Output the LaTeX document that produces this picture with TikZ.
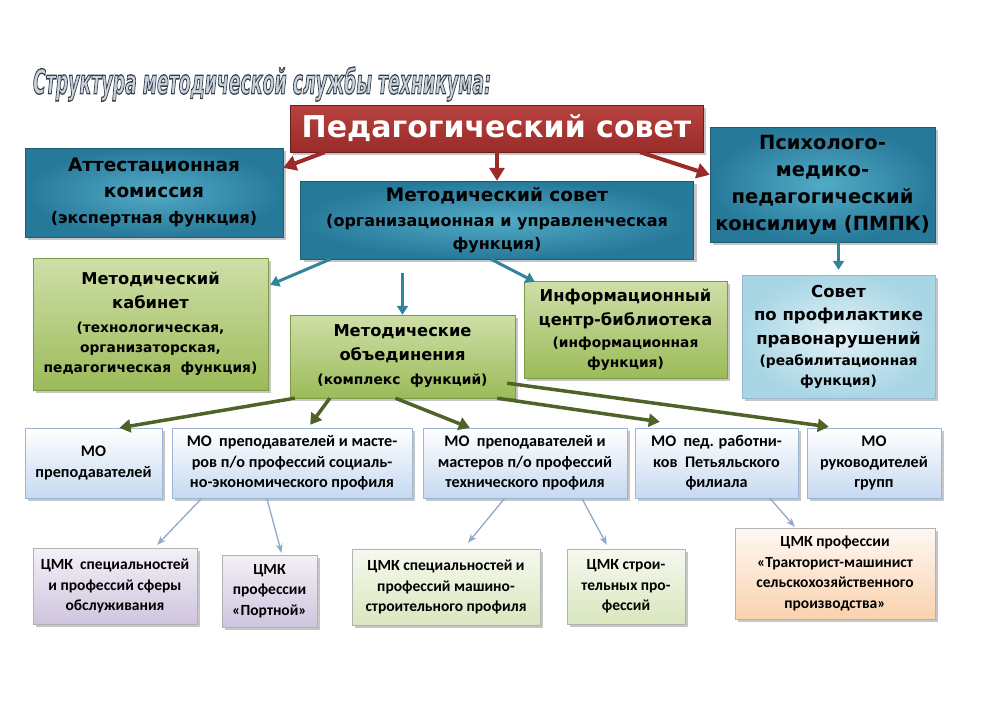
\documentclass[tikz,border=0pt]{standalone}
\usepackage{fontspec}
\setmainfont{DejaVu Sans}
\newfontfamily\calfont{Carlito}
\usetikzlibrary{arrows.meta, shadows, calc, positioning}

\definecolor{pedred}{HTML}{9A2B29}
\definecolor{pedredlight}{HTML}{B7433F}
\definecolor{tealdark}{HTML}{27799A}
\definecolor{teallight}{HTML}{52ABC6}
\definecolor{tealedge}{HTML}{1E5D70}
\definecolor{greendark}{HTML}{9BBB59}
\definecolor{greenlight}{HTML}{CFDFA8}
\definecolor{greenedge}{HTML}{7E9A46}
\definecolor{skyblue}{HTML}{A9D6E5}
\definecolor{skylight}{HTML}{E2F1F6}
\definecolor{mofill}{HTML}{C6D9F1}
\definecolor{moedge}{HTML}{9DB5D3}
\definecolor{lavender}{HTML}{CFC4DE}
\definecolor{palegreen}{HTML}{D9E6BE}
\definecolor{peach}{HTML}{FAD2AE}
\definecolor{titlefill}{HTML}{C9D3DE}
\definecolor{bluearr}{HTML}{31849B}
\definecolor{greenarr}{HTML}{4F6228}
\definecolor{thinarr}{HTML}{8FA9CA}

% sizes of the text in the upper boxes
\newcommand{\mnote}{\fontsize{13.8}{20}\selectfont}
\newcommand{\mnotebig}{\fontsize{16}{22.5}\selectfont}
% outlined title text
\newcommand{\outlined}[1]{\special{pdf:literal direct 2 Tr 1.3 w 0.22 0.25 0.30 RG}#1\special{pdf:literal direct 0 Tr}}

\begin{document}
\begin{tikzpicture}[x=1pt,y=-1pt]
	\tikzstyle{box}=[draw, align=center, inner sep=2pt,
		drop shadow={shadow xshift=3pt, shadow yshift=-3pt, opacity=0.45}]
	\tikzstyle{tealbox}=[box, draw=tealedge, inner color=teallight, outer color=tealdark,
		font=\bfseries\fontsize{18.5}{26}\selectfont]
	\tikzstyle{greenbox}=[box, draw=greenedge, top color=greenlight, bottom color=greendark,
		font=\bfseries\fontsize{16.3}{24}\selectfont]
	\tikzstyle{skybox}=[box, draw=moedge, inner color=skylight, outer color=skyblue,
		font=\bfseries\fontsize{16.5}{23.5}\selectfont]
	\tikzstyle{mobox}=[box, draw=moedge, top color=white, bottom color=mofill,
		font=\calfont\bfseries\fontsize{16.2}{20.5}\selectfont, minimum height=70]
	\tikzstyle{cmkbox}=[box, draw=gray!60, font=\calfont\bfseries\fontsize{15.5}{20.5}\selectfont]
	\tikzstyle{redarrow}=[draw=pedred, line width=4pt, -{Triangle[length=13pt,width=15pt]}]
	\tikzstyle{bluearrow}=[draw=bluearr, line width=3pt, -{Triangle[length=9pt,width=11pt]}]
	\tikzstyle{greenarrow}=[draw=greenarr, line width=3.5pt, -{Triangle[length=11pt,width=13pt]}]
	\tikzstyle{thinarrow}=[draw=thinarr, line width=1.3pt, -{Stealth[length=9pt,width=7pt]}]

	\useasboundingbox (0,0) rectangle (1000,707);

	% title
	\node[text=titlefill, font=\bfseries\itshape\fontsize{34}{34}\selectfont] (title) at (262,84)
		{\scalebox{0.51}[1]{\outlined{Структура методической службы техникума:}}};

	% upper level
	\node[box, draw=pedred!70!black, top color=pedredlight, bottom color=pedred, text=white,
		minimum width=413, minimum height=47, font=\bfseries\fontsize{30}{32}\selectfont] (ped) at (496.5,128.5) {Педагогический совет};
	\node[tealbox, minimum width=258, minimum height=89] (att) at (154,192.5)
		{Аттестационная\\комиссия\\\mnotebig (экспертная функция)};
	\node[tealbox, minimum width=393, minimum height=78] (msov) at (497,220)
		{Методический совет\\[-1pt]\mnotebig (организационная и управленческая\\[-3pt]\mnotebig функция)};
	\node[tealbox, minimum width=225, minimum height=115, font=\bfseries\fontsize{19.5}{27}\selectfont] (pmpk) at (822.5,184.5)
		{Психолого-\\медико-\\педагогический\\консилиум (ПМПК)};

	% middle level
	\node[greenbox, minimum width=235, minimum height=132] (kab) at (150.5,324)
		{Методический\\кабинет\\\mnote (технологическая,\\[-4pt]\mnote организаторская,\\[-4pt]\mnote педагогическая~ функция)};
	\node[greenbox, minimum width=203, minimum height=97] (info) at (625.5,329.5)
		{Информационный\\центр-библиотека\\[-2pt]\mnote (информационная\\[-4pt]\mnote функция)};
	\node[greenbox, minimum width=225, minimum height=83] (mo) at (402.5,356.5)
		{Методические\\объединения\\\mnote (комплекс~ функций)};
	\node[skybox, minimum width=193, minimum height=123] (prof) at (838.5,336.5)
		{Совет\\по профилактике\\правонарушений\\[-2pt]\mnote (реабилитационная\\[-4pt]\mnote функция)};

	% MO row
	\node[mobox, minimum width=137] (mo1) at (93.5,463) {МО\\преподавателей};
	\node[mobox, minimum width=240] (mo2) at (292,463) {МО~ преподавателей и масте-\\ров п/о профессий социаль-\\но-экономического профиля};
	\node[mobox, minimum width=204] (mo3) at (525,463) {МО~ преподавателей и\\мастеров п/о профессий\\технического профиля};
	\node[mobox, minimum width=163] (mo4) at (716.5,463) {МО~ пед. работни-\\ков~ Петьяльского\\филиала};
	\node[mobox, minimum width=134] (mo5) at (874,463) {МО\\руководителей\\групп};

	% CMK row
	\node[cmkbox, top color=lavender!25, bottom color=lavender, minimum width=164, minimum height=76] (c1) at (115,586)
		{ЦМК~ специальностей\\и профессий сферы\\обслуживания};
	\node[cmkbox, top color=lavender!25, bottom color=lavender, minimum width=95, minimum height=72] (c2) at (269.5,591)
		{ЦМК\\профессии\\«Портной»};
	\node[cmkbox, top color=palegreen!25, bottom color=palegreen, minimum width=188, minimum height=76] (c3) at (446,587)
		{ЦМК специальностей и\\профессий машино-\\строительного профиля};
	\node[cmkbox, top color=palegreen!25, bottom color=palegreen, minimum width=118, minimum height=75] (c4) at (626,586.5)
		{ЦМК строи-\\тельных про-\\фессий};
	\node[cmkbox, top color=peach!15, bottom color=peach, minimum width=200, minimum height=91] (c5) at (835,573.5)
		{ЦМК профессии\\«Тракторист-машинист\\сельскохозяйственного\\производства»};

	% arrows from the pedagogical council
	\draw[redarrow] ($(ped.south west)+(35,0)$) -- ($(att.north east)+(0,20)$);
	\draw[redarrow] (ped.south -| msov.north) -- (msov.north);
	\draw[redarrow] ($(ped.south east)+(-63,0)$) -- ($(pmpk.north west)+(0,48)$);

	% arrows from the methodical council
	\draw[bluearrow] ($(msov.south west)+(30,0)$) -- ($(kab.north east)+(2,27)$);
	\draw[bluearrow, shorten <=14pt] (msov.south -| mo.north) -- (mo.north);
	\draw[bluearrow] ($(msov.south)+(-6,0)$) -- ($(info.north west)+(11,1)$);
	\draw[bluearrow, shorten >=5pt] (pmpk.south -| prof.north) -- (prof.north);

	% arrows from the methodical associations
	\draw[greenarrow] ($(mo.south west)+(5,0)$) -- ($(mo1.north)+(26,0)$);
	\draw[greenarrow] ($(mo.south west)+(40,0)$) -- ($(mo2.north east)+(-102,-3)$);
	\draw[greenarrow] ($(mo.south)+(-7,0)$) -- ($(mo3.north west)+(47,0)$);
	\draw[greenarrow] ($(mo.south east)+(-8,-15)$) -- ($(mo5.north west)+(22,-1)$);
	\draw[greenarrow] ($(mo.south east)+(-18,0)$) -- ($(mo4.north west)+(25,-6)$);

	% arrows to the CMK
	\draw[thinarrow] ($(mo2.south west)+(30,0)$) -- ($(c1.north east)+(-40,-3)$);
	\draw[thinarrow] ($(mo2.south west)+(95,0)$) -- ($(c2.north)+(12,-2)$);
	\draw[thinarrow] ($(mo3.south west)+(82,0)$) -- ($(c3.north)+(22,-6)$);
	\draw[thinarrow] ($(mo3.south west)+(159,0)$) -- ($(c4.north west)+(40,-4)$);
	\draw[thinarrow] ($(mo4.south west)+(135,0)$) -- ($(c5.north west)+(60,-1)$);
\end{tikzpicture}
\end{document}
